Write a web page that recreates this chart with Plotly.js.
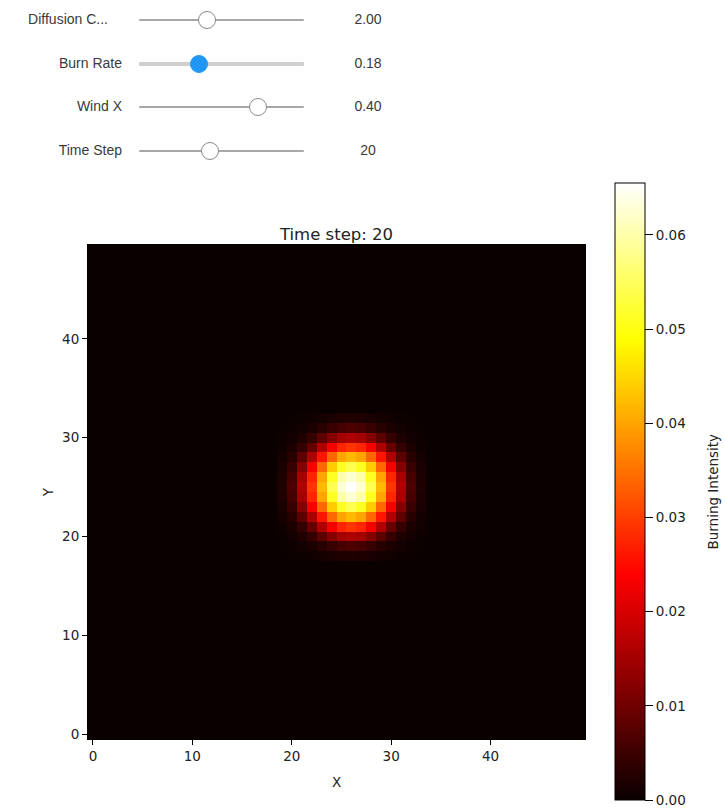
<!DOCTYPE html>
<html>
<head>
<meta charset="utf-8">
<script src="https://cdn.plot.ly/plotly-3.0.1.min.js"></script>
<style>
  html, body { margin: 0; padding: 0; background: #fff; width: 725px; height: 812px; overflow: hidden; }
  #chart { position: absolute; left: 0; top: 0; width: 725px; height: 812px; }
  .w { position: absolute; left: 0; height: 24px; width: 420px; font-family: "Liberation Sans", Arial, sans-serif; font-size: 14px; color: #3a3a3a; }
  .w .lab { position: absolute; top: 3px; text-align: right; white-space: nowrap; }
  .w .track { position: absolute; left: 139px; width: 165px; top: 11px; height: 2px; background: #a8a8a8; border-radius: 1px; }
  .w .track.active { top: 10px; height: 4px; background: #cfcfcf; }
  .w .knob { position: absolute; top: 3px; width: 16px; height: 16px; margin-left: -9px; border: 1px solid #8a8a8a; border-radius: 50%; background: #fff; }
  .w .knob.active { background: #2196f3; border-color: #2196f3; width: 16px; height: 16px; top: 3px; margin-left: -8px; }
  .w .val { position: absolute; left: 338px; width: 60px; top: 3px; text-align: center; }
</style>
</head>
<body>
<div id="chart"></div>
<div id="widgets"></div>
<script>
// ---- widget values ----
const widgetLabels = ["Diffusion C...", "Burn Rate", "Wind X", "Time Step"];
const widgetValues = ["2.00", "0.18", "0.40", "20"];
const widgetFraction = [0.41, 0.36, 0.72, 0.43];
const widgetActive = [false, true, false, false];

// ---- heatmap data ----
const gridSize = 50;
const patchX0 = 19;   // x index of first patch column
const patchY0 = 18;   // y index of first patch row
// burning intensity around the fire front (rows: y = 18..32, cols: x = 19..33)
const patch = [
  [0.0001,0.0002,0.0004,0.0007,0.0011,0.0016,0.0020,0.0022,0.0020,0.0016,0.0011,0.0007,0.0004,0.0002,0.0001],
  [0.0002,0.0004,0.0009,0.0018,0.0030,0.0045,0.0060,0.0065,0.0060,0.0045,0.0030,0.0018,0.0009,0.0004,0.0002],
  [0.0004,0.0009,0.0020,0.0042,0.0080,0.0120,0.0150,0.0160,0.0150,0.0120,0.0080,0.0042,0.0020,0.0009,0.0004],
  [0.0007,0.0018,0.0042,0.0090,0.0160,0.0230,0.0275,0.0290,0.0275,0.0230,0.0160,0.0090,0.0042,0.0018,0.0007],
  [0.0011,0.0030,0.0080,0.0160,0.0260,0.0340,0.0400,0.0420,0.0400,0.0340,0.0260,0.0160,0.0080,0.0030,0.0011],
  [0.0016,0.0045,0.0120,0.0230,0.0340,0.0440,0.0510,0.0540,0.0510,0.0440,0.0340,0.0230,0.0120,0.0045,0.0016],
  [0.0020,0.0060,0.0150,0.0275,0.0400,0.0510,0.0600,0.0625,0.0600,0.0510,0.0400,0.0275,0.0150,0.0060,0.0020],
  [0.0022,0.0065,0.0160,0.0290,0.0420,0.0540,0.0625,0.0655,0.0625,0.0540,0.0420,0.0290,0.0160,0.0065,0.0022],
  [0.0020,0.0060,0.0150,0.0275,0.0400,0.0510,0.0600,0.0625,0.0600,0.0510,0.0400,0.0275,0.0150,0.0060,0.0020],
  [0.0016,0.0045,0.0120,0.0230,0.0340,0.0440,0.0510,0.0540,0.0510,0.0440,0.0340,0.0230,0.0120,0.0045,0.0016],
  [0.0011,0.0030,0.0080,0.0160,0.0260,0.0340,0.0400,0.0420,0.0400,0.0340,0.0260,0.0160,0.0080,0.0030,0.0011],
  [0.0007,0.0018,0.0042,0.0090,0.0160,0.0230,0.0275,0.0290,0.0275,0.0230,0.0160,0.0090,0.0042,0.0018,0.0007],
  [0.0004,0.0009,0.0020,0.0042,0.0080,0.0120,0.0150,0.0160,0.0150,0.0120,0.0080,0.0042,0.0020,0.0009,0.0004],
  [0.0002,0.0004,0.0009,0.0018,0.0030,0.0045,0.0060,0.0065,0.0060,0.0045,0.0030,0.0018,0.0009,0.0004,0.0002],
  [0.0001,0.0002,0.0004,0.0007,0.0011,0.0016,0.0020,0.0022,0.0020,0.0016,0.0011,0.0007,0.0004,0.0002,0.0001]
];
const xTicks = [0, 10, 20, 30, 40];
const yTicks = [0, 10, 20, 30, 40];
const cbTicks = [0, 0.01, 0.02, 0.03, 0.04, 0.05, 0.06];

// ---- widgets ----
const rowTops = [8, 52, 95, 139];
const labelRight = [108, 122, 122, 122];
const wRoot = document.getElementById('widgets');
widgetLabels.forEach((lab, i) => {
  const d = document.createElement('div');
  d.className = 'w';
  d.style.top = rowTops[i] + 'px';
  const knobLeft = 139 + 165 * widgetFraction[i];
  d.innerHTML =
    '<div class="lab" style="right:' + (420 - labelRight[i]) + 'px">' + lab + '</div>' +
    '<div class="track' + (widgetActive[i] ? ' active' : '') + '"></div>' +
    '<div class="knob' + (widgetActive[i] ? ' active' : '') + '" style="left:' + knobLeft + 'px"></div>' +
    '<div class="val">' + widgetValues[i] + '</div>';
  wRoot.appendChild(d);
});

// ---- build grid ----
const xs = [], ys = [];
for (let i = 0; i < gridSize; i++) { xs.push(i); ys.push(i); }
const z = ys.map(() => xs.map(() => 0));
patch.forEach((row, r) => row.forEach((v, c) => { z[patchY0 + r][patchX0 + c] = v; }));
const zmax = Math.max(...patch.map(r => Math.max(...r)));

const hot = [
  [0, 'rgb(10,0,0)'],
  [0.365, 'rgb(255,0,0)'],
  [0.746, 'rgb(255,255,0)'],
  [1, 'rgb(255,255,255)']
];

const font = { family: 'DejaVu Sans, sans-serif', size: 13.5, color: '#222' };

const trace = {
  type: 'heatmap', x: xs, y: ys, z: z,
  zmin: 0, zmax: zmax, colorscale: hot, zsmooth: false,
  colorbar: {
    x: 1.0604, xanchor: 'left', xref: 'paper', xpad: 0,
    y: 0.501, yanchor: 'middle', ypad: 0,
    len: 617, lenmode: 'pixels', thickness: 30,
    outlinewidth: 1, outlinecolor: '#000',
    tickmode: 'array', tickvals: cbTicks, tickformat: '.2f',
    ticks: 'outside', ticklen: 8, tickcolor: '#000',
    tickfont: font
  }
};

const layout = {
  width: 725, height: 812,
  margin: { l: 88, r: 140, t: 245, b: 67 },
  paper_bgcolor: '#fff', plot_bgcolor: '#0a0000',
  font: font,
  title: { text: 'Time step: 20', x: 0.5, xref: 'paper', xanchor: 'center', y: 1, yref: 'paper', yanchor: 'bottom', pad: { b: 5 }, font: { family: 'DejaVu Sans, sans-serif', size: 16.5, color: '#222' } },
  xaxis: {
    range: [-0.5, 49.5], tickmode: 'array', tickvals: xTicks,
    ticks: 'outside', ticklen: 5, tickcolor: '#000',
    showline: true, linecolor: '#000', linewidth: 1, mirror: true,
    showgrid: false, zeroline: false,
    title: { text: 'X', font: font, standoff: 14 }
  },
  yaxis: {
    range: [-0.5, 49.5], tickmode: 'array', tickvals: yTicks,
    ticks: 'outside', ticklen: 5, tickcolor: '#000',
    showline: true, linecolor: '#000', linewidth: 1, mirror: true,
    showgrid: false, zeroline: false,
    title: { text: 'Y', font: font, standoff: 5 }
  },
  annotations: [{
    text: 'Burning Intensity', textangle: -90, showarrow: false,
    xref: 'paper', yref: 'paper', x: (713 - 88) / 497, y: 0.501,
    xanchor: 'center', yanchor: 'middle', font: font
  }]
};

Plotly.newPlot('chart', [trace], layout, { displayModeBar: false, staticPlot: true });
</script>
</body>
</html>
